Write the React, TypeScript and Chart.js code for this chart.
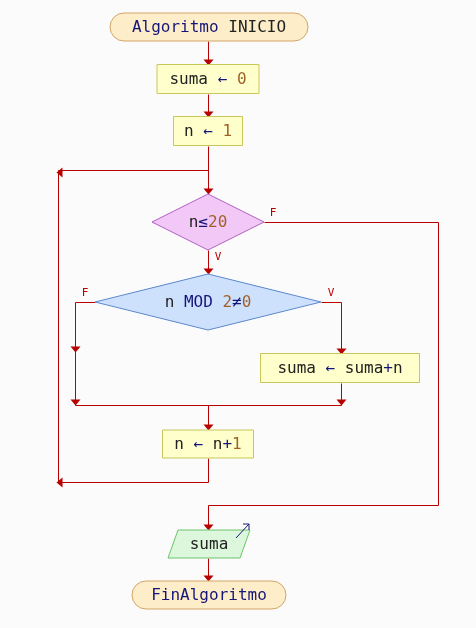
import React, { useEffect, useRef } from "react";
import { Chart, registerables } from "chart.js";
Chart.register(...registerables);

type Seg = [string, string];
// node kinds, labels and centers (data units)
const nodeKinds = ["term", "proc", "proc", "dec1", "dec2", "proc", "proc", "out", "term"];
const nodeLabels: Seg[][] = [
  [["Algoritmo ", "k"], ["INICIO", "v"]],
  [["suma ", "v"], ["← ", "k"], ["0", "n"]],
  [["n ", "v"], ["← ", "k"], ["1", "n"]],
  [["n", "v"], ["≤", "k"], ["20", "n"]],
  [["n ", "v"], ["MOD ", "k"], ["2", "n"], ["≠", "k"], ["0", "n"]],
  [["suma ", "v"], ["← ", "k"], ["suma", "v"], ["+", "k"], ["n", "v"]],
  [["n ", "v"], ["← ", "k"], ["n", "v"], ["+", "k"], ["1", "n"]],
  [["suma", "v"]],
  [["FinAlgoritmo", "k"]],
];
const nodeX = [209, 208, 208, 208, 208, 340, 208, 209, 209];
const nodeY = [27, 79, 131, 222, 302, 368, 444, 544, 595];
const nodeW = [198, 102, 69, 112, 226, 159, 91, 82, 154];
const nodeH = [28, 29, 29, 56, 56, 29, 28, 28, 28];
// connector polylines
const lines: number[][][] = [
  [[208, 41], [208, 65]],
  [[208, 94], [208, 117]],
  [[208, 146], [208, 194]],
  [[58, 170], [208, 170]],
  [[264, 222], [438, 222], [438, 505], [208, 505], [208, 530]],
  [[208, 250], [208, 274]],
  [[95, 302], [75, 302], [75, 405]],
  [[321, 302], [341, 302], [341, 354]],
  [[341, 383], [341, 405]],
  [[75, 405], [341, 405]],
  [[208, 405], [208, 430]],
  [[208, 458], [208, 482], [58, 482], [58, 170]],
  [[208, 558], [208, 581]],
];
// arrowheads [x, y, direction]
const arrows: [number, number, string][] = [
  [208, 65, "d"], [208, 117, "d"], [208, 194, "d"], [208, 274, "d"], [341, 354, "d"],
  [75, 352, "d"], [75, 405, "d"], [341, 405, "d"], [208, 430, "d"], [208, 530, "d"],
  [208, 581, "d"], [58, 482, "l"], [58, 172, "l"],
];
const branchLabels = ["F", "V", "F", "V"];
const branchX = [273, 218, 85, 331];
const branchY = [213, 257, 293, 293];

const colors: Record<string, string> = { k: "#16167a", v: "#222222", n: "#a0622d" };
const styles: Record<string, [string, string]> = {
  term: ["#fdedc8", "#d3a567"],
  proc: ["#ffffcc", "#c9c75a"],
  dec1: ["#f2c8f7", "#b160c2"],
  dec2: ["#cde1fd", "#5b88cf"],
  out: ["#dcf7dc", "#6cc46c"],
};
const RED = "#b80000";

export default function App() {
  const ref = useRef<HTMLCanvasElement>(null);
  useEffect(() => {
    document.body.style.margin = "0";
    const plugin = {
      id: "flow",
      beforeDraw(c: any) {
        const ctx = c.ctx;
        ctx.save();
        ctx.fillStyle = "#fbfbfb";
        ctx.fillRect(0, 0, c.width, c.height);
        ctx.restore();
      },
      afterDraw(c: any) {
        const xs = c.scales.x, ys = c.scales.y;
        const X = (v: number) => xs.getPixelForValue(v);
        const Y = (v: number) => ys.getPixelForValue(v);
        const ctx: CanvasRenderingContext2D = c.ctx;
        ctx.save();
        ctx.strokeStyle = RED;
        ctx.lineWidth = 1;
        lines.forEach((pl) => {
          ctx.beginPath();
          pl.forEach(([x, y], i) => (i ? ctx.lineTo(X(x) + 0.5, Y(y) + 0.5) : ctx.moveTo(X(x) + 0.5, Y(y) + 0.5)));
          ctx.stroke();
        });
        ctx.fillStyle = RED;
        arrows.forEach(([x, y, d]) => {
          const px = X(x) + 0.5, py = Y(y) + 0.5;
          ctx.beginPath();
          if (d === "d") { ctx.moveTo(px, py); ctx.lineTo(px - 5, py - 6); ctx.lineTo(px + 5, py - 6); }
          else { ctx.moveTo(px - 2, py); ctx.lineTo(px + 4, py - 5); ctx.lineTo(px + 4, py + 5); }
          ctx.closePath();
          ctx.fill();
        });
        ctx.font = "11px 'DejaVu Sans Mono'";
        ctx.textAlign = "center";
        ctx.textBaseline = "middle";
        branchLabels.forEach((t, i) => ctx.fillText(t, X(branchX[i]), Y(branchY[i])));
        nodeKinds.forEach((k, i) => {
          const cx = X(nodeX[i]), cy = Y(nodeY[i]);
          const w = X(nodeX[i] + nodeW[i] / 2) - cx, h = Y(nodeY[i] + nodeH[i] / 2) - cy;
          const [fill, stroke] = styles[k];
          ctx.beginPath();
          if (k === "term") {
            ctx.roundRect(cx - w, cy - h, 2 * w, 2 * h, h);
          } else if (k === "proc") {
            ctx.rect(cx - w, cy - h, 2 * w, 2 * h);
          } else if (k === "out") {
            ctx.moveTo(cx - w + 10, cy - h); ctx.lineTo(cx + w, cy - h);
            ctx.lineTo(cx + w - 10, cy + h); ctx.lineTo(cx - w, cy + h); ctx.closePath();
          } else {
            ctx.moveTo(cx, cy - h); ctx.lineTo(cx + w, cy); ctx.lineTo(cx, cy + h); ctx.lineTo(cx - w, cy); ctx.closePath();
          }
          ctx.fillStyle = fill; ctx.fill();
          ctx.strokeStyle = stroke; ctx.lineWidth = 1; ctx.stroke();
          if (k === "out") {
            ctx.strokeStyle = "#16167a";
            ctx.beginPath(); ctx.moveTo(cx + 27, cy - 6); ctx.lineTo(cx + 40, cy - 20);
            ctx.moveTo(cx + 34, cy - 20); ctx.lineTo(cx + 40, cy - 20); ctx.lineTo(cx + 40, cy - 14);
            ctx.stroke();
          }
          ctx.font = "16px 'DejaVu Sans Mono'";
          ctx.textAlign = "left";
          const segs = nodeLabels[i];
          const total = segs.reduce((s, [t]) => s + ctx.measureText(t).width, 0);
          let x = cx - total / 2;
          segs.forEach(([t, col]) => {
            ctx.fillStyle = colors[col];
            ctx.fillText(t, x, cy + 1);
            x += ctx.measureText(t).width;
          });
        });
        ctx.restore();
      },
    };
    const chart = new Chart(ref.current!, {
      type: "scatter",
      data: { datasets: [{ data: nodeX.map((x, i) => ({ x, y: nodeY[i] })), pointRadius: 0 }] },
      options: {
        animation: false,
        responsive: false,
        layout: { padding: 0 },
        plugins: { legend: { display: false }, tooltip: { enabled: false } },
        scales: {
          x: { type: "linear", min: 0, max: 476, display: false },
          y: { type: "linear", min: 0, max: 628, reverse: true, display: false },
        },
      },
      plugins: [plugin],
    });
    return () => chart.destroy();
  }, []);
  return <canvas ref={ref} width={476} height={628} style={{ display: "block" }} />;
}
